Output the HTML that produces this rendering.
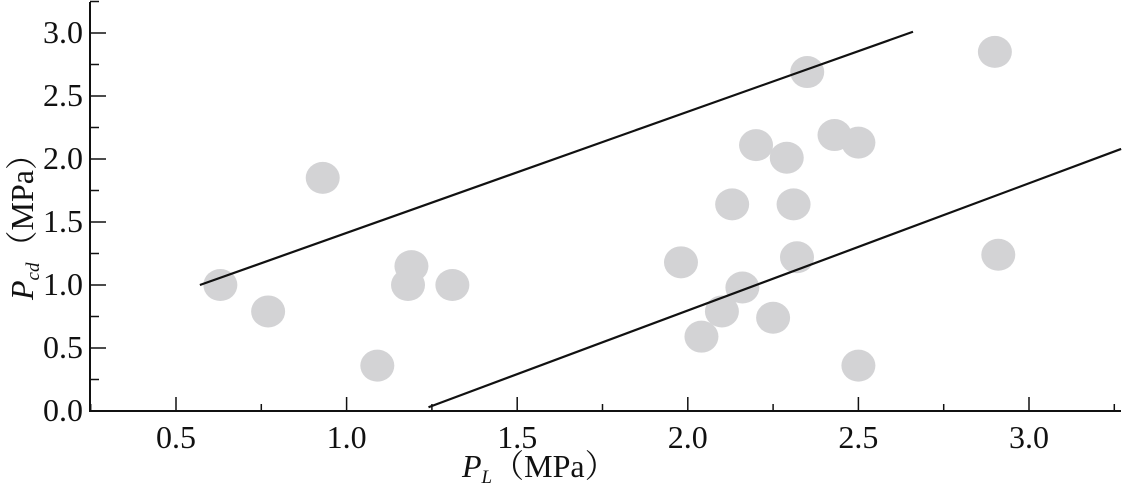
<!DOCTYPE html>
<html><head><meta charset="utf-8"><style>
html,body{margin:0;padding:0;background:#fff;width:1144px;height:487px;overflow:hidden}
text{font-family:"Liberation Serif","Noto Serif CJK SC",serif;fill:#111}
</style></head><body>
<svg id="chart" width="1144" height="487" viewBox="0 0 1144 487" xmlns="http://www.w3.org/2000/svg"></svg>
<script>
const xVals=[0.63,0.77,0.93,1.09,1.19,1.18,1.31,1.98,2.04,2.10,2.13,2.16,2.20,2.25,2.29,2.31,2.32,2.35,2.43,2.50,2.50,2.90,2.91];
const yVals=[1.0,0.79,1.85,0.36,1.15,1.0,1.0,1.18,0.59,0.79,1.64,0.98,2.11,0.74,2.01,1.64,1.22,2.69,2.19,2.13,0.36,2.85,1.24];
const upperLine=[[0.57,1.0],[2.66,3.01]];
const lowerLine=[[1.24,0.03],[3.27,2.08]];
const xTicks=[0.5,1.0,1.5,2.0,2.5,3.0];
const xTickLabels=["0.5","1.0","1.5","2.0","2.5","3.0"];
const yTicks=[0,0.5,1.0,1.5,2.0,2.5,3.0];
const yTickLabels=["0.0","0.5","1.0","1.5","2.0","2.5","3.0"];
const NS="http://www.w3.org/2000/svg";
const svg=document.getElementById('chart');
const X=v=>176+(v-0.5)*341.2;
const Y=v=>411-v*126;
function mk(t,a){const e=document.createElementNS(NS,t);for(const k in a)e.setAttribute(k,a[k]);svg.appendChild(e);return e;}
xVals.forEach((v,i)=>{const c=mk('ellipse',{cx:X(v),cy:Y(yVals[i]),rx:17,ry:16,fill:'#d3d3d5'});

});
[upperLine,lowerLine].forEach((l,i)=>{const e=mk('line',{x1:X(l[0][0]),y1:Y(l[0][1]),x2:X(l[1][0]),y2:Y(l[1][1]),stroke:'#111','stroke-width':2.2});

});
let ax=mk('path',{d:'M90,2 L90,411 L1121,411',fill:'none',stroke:'#111','stroke-width':2});


for(let v=0.25;v<3.3;v+=0.25){const major=Math.abs(v*2-Math.round(v*2))<1e-6;const t=mk('line',{x1:X(v),y1:411,x2:X(v),y2:major?397:404,stroke:'#111','stroke-width':1.5});

}
for(let v=0.25;v<3.3;v+=0.25){const major=Math.abs(v*2-Math.round(v*2))<1e-6;const t=mk('line',{x1:90,y1:Y(v),x2:major?106:99,y2:Y(v),stroke:'#111','stroke-width':1.5});

}
xTicks.forEach((v,i)=>{const t=mk('text',{x:X(v),y:448,'text-anchor':'middle','font-size':32});t.textContent=xTickLabels[i];

});
yTicks.forEach((v,i)=>{const t=mk('text',{x:83,y:Y(v)+10,'text-anchor':'end','font-size':32});t.textContent=yTickLabels[i];

});
</script>
<svg style="position:absolute;left:0;top:0" width="1144" height="487">
<text x="462" y="477" font-size="32"><tspan font-style="italic">P</tspan><tspan font-style="italic" font-size="19" dy="6">L</tspan><tspan dy="-6">（MPa）</tspan></text>
<text transform="translate(33,300) rotate(-90)" font-size="32"><tspan font-style="italic">P</tspan><tspan font-style="italic" font-size="19" dy="6">cd</tspan><tspan dy="-6">（MPa）</tspan></text>
</svg>
</body></html>
